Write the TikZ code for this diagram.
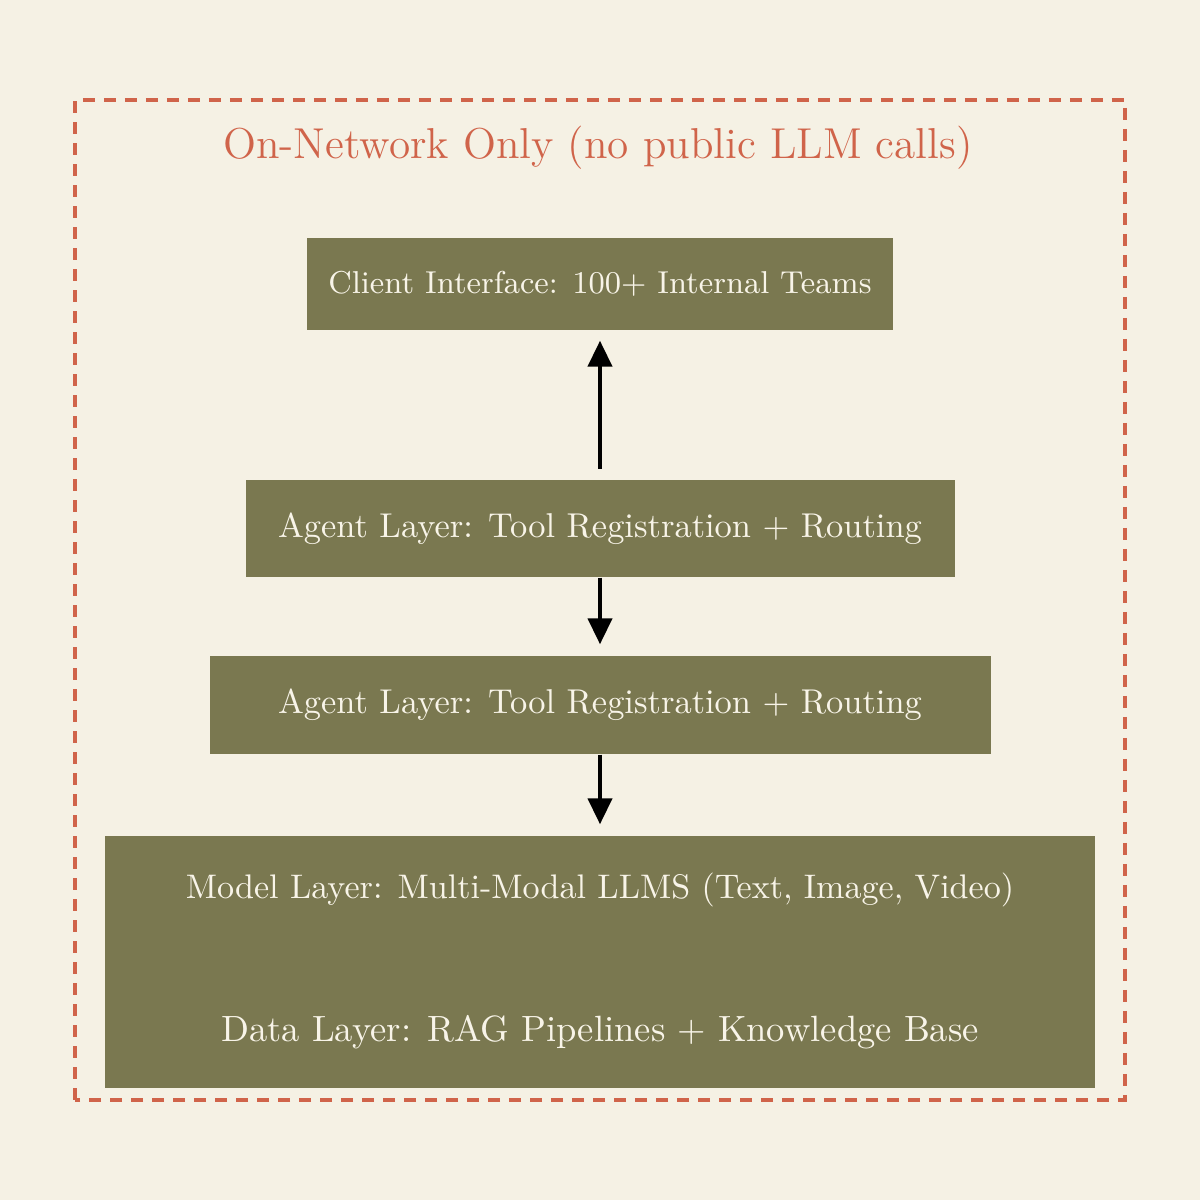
\documentclass[tikz,border=0pt]{standalone}
\usetikzlibrary{arrows.meta}
\definecolor{paper}{HTML}{F5F1E4}
\definecolor{olive}{HTML}{7A7850}
\definecolor{brick}{HTML}{D0644A}
\definecolor{cream}{HTML}{F8F4E8}
\tikzset{ layer/.style = { rectangle
                           , fill = olive
                           , text = cream
                           , inner sep = 0pt
                           , font = \fontsize{9.8}{12}\selectfont
                           },
          flow/.style = { -{Triangle[length=2.6mm,width=2.4mm]}
                        , line width = 1.2pt
                        , black
                        }
        }
\begin{document}
\begin{tikzpicture}
    \fill[paper] (0,0) rectangle (12,12);
    \useasboundingbox (0,0) rectangle (12,12);
    % trust boundary
    \draw[brick, line width=1pt, dash pattern=on 1.2mm off 0.9mm] (0.75,1.0) rectangle (11.25,11.0);
    \node[text=brick, font=\fontsize{12.3}{15}\selectfont] (title) at (5.98,10.52) {On-Network Only (no public LLM calls)};
    % layers
    \node[layer, minimum width=5.86cm, minimum height=0.92cm, font=\fontsize{9}{11}\selectfont] (client) at (6.0,9.16) {Client Interface: 100+ Internal Teams};
    \node[layer, minimum width=7.09cm, minimum height=0.97cm] (agent) at (6.0,6.715) {Agent Layer: Tool Registration + Routing};
    \node[layer, minimum width=7.81cm, minimum height=0.98cm] (agentb) at (6.0,4.95) {Agent Layer: Tool Registration + Routing};
    \node[layer, minimum width=9.90cm, minimum height=2.52cm] (model) at (6.0,2.38) {};
    \node[text=cream, font=\fontsize{9.7}{12}\selectfont] (mtext) at (6.0,3.1) {Model Layer: Multi-Modal LLMS (Text, Image, Video)};
    \node[text=cream, font=\fontsize{10.4}{13}\selectfont] (dtext) at (6.0,1.68) {Data Layer: RAG Pipelines + Knowledge Base};
    % connectors
    \draw[flow, {Triangle[length=2.6mm,width=2.4mm]}-] ([yshift=-1mm]client.south) -- ([yshift=1mm]agent.north);
    \draw[flow] (agent) -- ([yshift=1.1mm]agentb.north);
    \draw[flow] (agentb) -- ([yshift=1.1mm]model.north);
\end{tikzpicture}
\end{document}
